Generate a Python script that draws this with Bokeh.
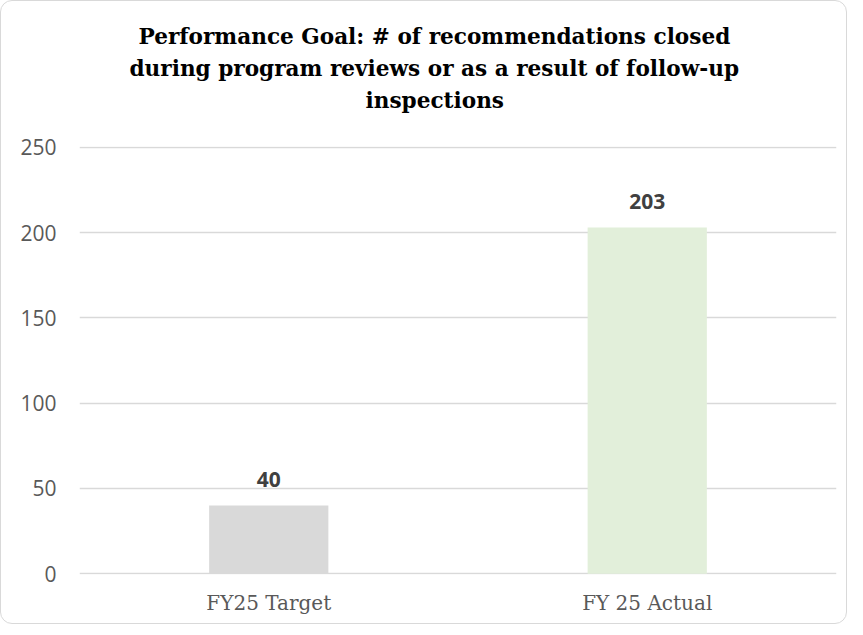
from bokeh.plotting import figure
from bokeh.models import Title, ColumnDataSource, LabelSet, FixedTicker, Range1d
from bokeh.core.properties import value
from bokeh.embed import file_html
from bokeh.resources import INLINE

categories = ["FY25 Target", "FY 25 Actual"]
values = [40, 203]
colors = ["#D9D9D9", "#E2EFDA"]
y_ticks = [0, 50, 100, 150, 200, 250]
title_lines = [
    "Performance Goal: # of recommendations closed",
    "during program reviews or as a result of follow-up",
    "inspections",
]

src = ColumnDataSource(dict(cat=categories, val=values, color=colors,
                            lbl=[str(v) for v in values]))

p = figure(x_range=categories, y_range=Range1d(-0.5, 250.5), width=847, height=624,
           output_backend="svg", toolbar_location=None,
           min_border_left=78, min_border_right=12, min_border_bottom=51,
           min_border_top=145)
p.styles = {"border": "1.5px solid #D9D9D9", "border-radius": "12px", "box-sizing": "border-box"}
p.outline_line_color = None
p.background_fill_color = None
p.border_fill_color = None

p.vbar(x="cat", top="val", bottom=0, width=0.315, fill_color="color", line_color=None, source=src)

labels = LabelSet(x="cat", y="val", text="lbl", source=src, text_align="center",
                  text_baseline="bottom", y_offset=18, text_font=value("Open Sans"),
                  text_font_size="21px", text_font_style="bold", text_color="#404040")
p.add_layout(labels)

# spacer below the title, then title lines (later added = higher);
# left-aligned with offsets so the block is centred on the whole chart
p.add_layout(Title(text=" ", text_font_size="22px", standoff=4), "above")
offsets = [59, 50, 286]
for line, off in reversed(list(zip(title_lines, offsets))):
    p.add_layout(Title(text=line, align="left", offset=off, text_font="DejaVu Serif",
                       text_font_size="21.6px", text_font_style="bold",
                       text_color="#000000", standoff=4.5), "above")

p.xgrid.grid_line_color = None
p.ygrid.grid_line_color = "#D9D9D9"
p.ygrid.grid_line_width = 1.5
p.yaxis.ticker = FixedTicker(ticks=y_ticks)
for ax in (p.xaxis[0], p.yaxis[0]):
    ax.axis_line_color = None
    ax.major_tick_line_color = None
    ax.minor_tick_line_color = None
p.yaxis.major_label_text_font = "Open Sans"
p.yaxis.major_label_text_font_size = "21px"
p.yaxis.major_label_text_color = "#595959"
p.yaxis.major_label_standoff = 17
p.xaxis.major_label_text_font = "DejaVu Serif"
p.xaxis.major_label_text_font_size = "20px"
p.xaxis.major_label_text_color = "#595959"
p.xaxis.major_label_standoff = 10

open("out.html", "w").write(file_html(p, INLINE))
